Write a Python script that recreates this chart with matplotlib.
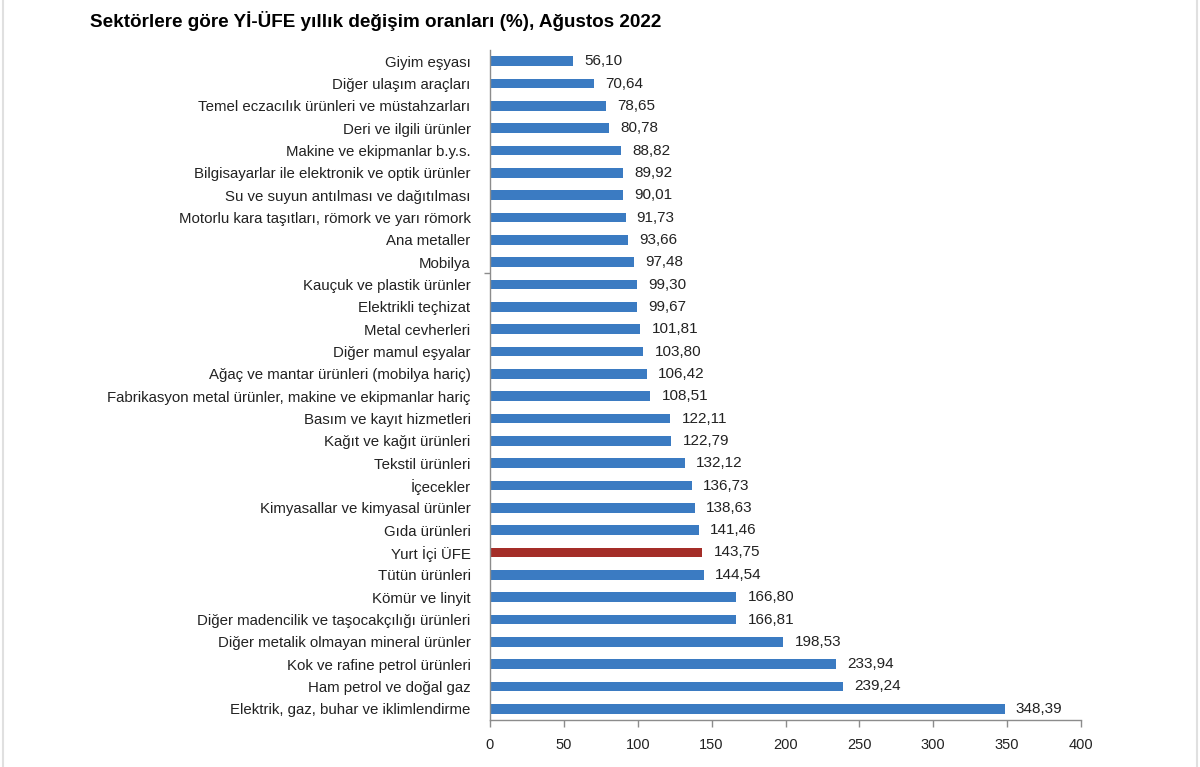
import matplotlib
matplotlib.use("Agg")
import matplotlib.pyplot as plt
from matplotlib.lines import Line2D

categories = [
    "Giyim eşyası",
    "Diğer ulaşım araçları",
    "Temel eczacılık ürünleri ve müstahzarları",
    "Deri ve ilgili ürünler",
    "Makine ve ekipmanlar b.y.s.",
    "Bilgisayarlar ile elektronik ve optik ürünler",
    "Su ve suyun antılması ve dağıtılması",
    "Motorlu kara taşıtları, römork ve yarı römork",
    "Ana metaller",
    "Mobilya",
    "Kauçuk ve plastik ürünler",
    "Elektrikli teçhizat",
    "Metal cevherleri",
    "Diğer mamul eşyalar",
    "Ağaç ve mantar ürünleri (mobilya hariç)",
    "Fabrikasyon metal ürünler, makine ve ekipmanlar hariç",
    "Basım ve kayıt hizmetleri",
    "Kağıt ve kağıt ürünleri",
    "Tekstil ürünleri",
    "İçecekler",
    "Kimyasallar ve kimyasal ürünler",
    "Gıda ürünleri",
    "Yurt İçi ÜFE",
    "Tütün ürünleri",
    "Kömür ve linyit",
    "Diğer madencilik ve taşocakçılığı ürünleri",
    "Diğer metalik olmayan mineral ürünler",
    "Kok ve rafine petrol ürünleri",
    "Ham petrol ve doğal gaz",
    "Elektrik, gaz, buhar ve iklimlendirme",
]
values = [56.10, 70.64, 78.65, 80.78, 88.82, 89.92, 90.01, 91.73, 93.66, 97.48,
          99.30, 99.67, 101.81, 103.80, 106.42, 108.51, 122.11, 122.79, 132.12, 136.73,
          138.63, 141.46, 143.75, 144.54, 166.80, 166.81, 198.53, 233.94, 239.24, 348.39]
highlight = "Yurt İçi ÜFE"
x_ticks = [0, 50, 100, 150, 200, 250, 300, 350, 400]

blue = "#3B7BC2"
red = "#A42D28"
txt = "#222222"

plt.rcParams['font.family'] = ['Liberation Sans', 'DejaVu Sans']

fig = plt.figure(figsize=(12, 7.67), dpi=100)
ax = fig.add_axes([490/1200, 1-720/767, (1081-490)/1200, 670/767])

ypos = list(range(len(categories)))
colors = [red if c == highlight else blue for c in categories]
ax.barh(ypos, values, height=0.42, color=colors)
ax.set_ylim(len(categories)-0.5, -0.5)
ax.set_xlim(0, 400)
ax.set_yticks(ypos)
ax.set_yticklabels(categories, fontsize=10.8, color=txt)
ax.tick_params(axis='y', which='major', length=0, pad=14)
ax.set_yticks([9.5], minor=True)
ax.tick_params(axis='y', which='minor', length=4, width=1, color="#8c8c8c")
ax.set_xticks(x_ticks)
ax.set_xticklabels([str(t) for t in x_ticks], fontsize=10.5, color=txt)
ax.tick_params(axis='x', length=5, width=1, color="#8c8c8c", pad=8)

for s in ['top', 'right']:
    ax.spines[s].set_visible(False)
for s in ['left', 'bottom']:
    ax.spines[s].set_color("#8c8c8c")
    ax.spines[s].set_linewidth(1)

for y, v in zip(ypos, values):
    ax.annotate(f"{v:.2f}".replace(".", ","), xy=(v, y), xytext=(8, 0),
                textcoords="offset points", va="center", ha="left",
                fontsize=11, color=txt)

fig.text(90/1200, 1-21/767, "Sektörlere göre Yİ-ÜFE yıllık değişim oranları (%), Ağustos 2022",
         fontsize=13.6, fontweight="bold", color="black", ha="left", va="center")

# faint page borders
fig.add_artist(Line2D([3/1200, 3/1200], [0, 1], color="#e0e0e0", lw=1.5, transform=fig.transFigure))
fig.add_artist(Line2D([1197/1200, 1197/1200], [0, 1], color="#e0e0e0", lw=1.5, transform=fig.transFigure))

fig.savefig("out.png", dpi=100, facecolor="white")
